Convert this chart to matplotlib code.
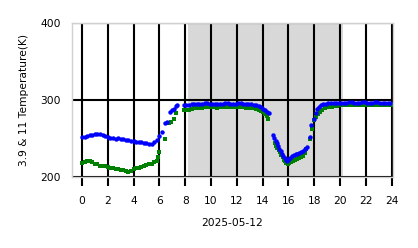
import matplotlib
matplotlib.use("Agg")
import matplotlib.pyplot as plt

# 3.9 K stage (blue) and 11 K stage (green), hours of 2025-05-12
blue_hours = [0.0, 0.2, 0.4, 0.6, 0.8, 1.0, 1.2, 1.4, 1.6, 1.8, 2.0, 2.2, 2.4, 2.6, 2.8, 3.0,
              3.2, 3.4, 3.6, 3.8, 4.0, 4.2, 4.4, 4.6, 4.8, 5.0, 5.2, 5.4, 5.6, 5.8, 6.0, 6.2,
              6.45, 6.6, 6.85, 6.95, 7.1, 7.25, 7.4,
              7.9, 8.1, 8.3, 8.5, 8.7, 8.9, 9.1, 9.3, 9.5, 9.7, 9.9, 10.1, 10.3, 10.5, 10.7,
              10.9, 11.1, 11.3, 11.5, 11.7, 11.9, 12.1, 12.3, 12.5, 12.7, 12.9, 13.1, 13.3,
              13.5, 13.7, 13.9, 14.05, 14.2, 14.35, 14.5,
              14.8, 14.9, 15.0, 15.1, 15.2, 15.3, 15.4, 15.5, 15.6, 15.7, 15.8, 15.9, 16.0,
              16.1, 16.25, 16.4, 16.55, 16.7, 16.85, 17.0, 17.15, 17.3, 17.45,
              17.65, 17.78, 17.95, 18.1, 18.25, 18.4, 18.55, 18.7, 18.9, 19.1, 19.3, 19.5,
              19.7, 19.9, 20.1, 20.3, 20.5, 20.7, 20.9, 21.1, 21.3, 21.5, 21.7, 21.9, 22.1,
              22.3, 22.5, 22.7, 22.9, 23.1, 23.3, 23.5, 23.7, 23.9]
blue_temp = [252, 252.5, 253, 254, 254.5, 255.5, 256, 255.5, 255, 253.5, 252, 251, 250.5, 249.5,
             250.5, 249.5, 249, 248.5, 247.5, 247, 246.5, 246, 245.5, 245, 244.5, 244, 243,
             243.5, 245.5, 248, 253, 258,
             270, 272, 285, 287, 289, 292, 293,
             293.5, 293.5, 294, 294.5, 295.5, 295.5, 295, 295.5, 296, 296, 295.5, 295.5, 295,
             295, 295, 295.5, 296, 296, 295.5, 295, 295.5, 296, 296, 295.5, 295, 294.5, 294.5,
             294, 293.5, 292.5, 290.5, 289, 287, 285, 283,
             254, 250.5, 247, 244, 240.5, 237, 234, 230, 227, 224.5, 222.5, 221.5, 222.5,
             224.5, 227, 228.5, 229.5, 230.5, 231.5, 233, 234.5, 236.5, 239,
             252, 267, 276, 283, 288, 291, 293, 294.5, 295.5, 296, 296.5, 296.5,
             296.5, 296.5, 296.5, 296.5, 296.5, 297, 297, 296.5, 296.5, 296.5, 297, 297, 296.5,
             296.5, 296.5, 297, 297, 296.5, 296.5, 296.5, 296.5, 296.5]

green_hours = [0.0, 0.2, 0.4, 0.6, 0.8, 1.0, 1.2, 1.4, 1.6, 1.8, 2.0, 2.2, 2.4, 2.6, 2.8, 3.0,
               3.2, 3.4, 3.6, 3.8, 4.0, 4.2, 4.4, 4.6, 4.8, 5.0, 5.2, 5.4, 5.6, 5.8, 5.9, 6.0,
               6.45, 6.75, 6.9, 7.15, 7.25,
               7.9, 8.1, 8.3, 8.5, 8.7, 8.9, 9.1, 9.3, 9.5, 9.7, 9.9, 10.1, 10.3, 10.5, 10.7,
               10.9, 11.1, 11.3, 11.5, 11.7, 11.9, 12.1, 12.3, 12.5, 12.7, 12.9, 13.1, 13.3,
               13.5, 13.7, 13.9, 14.05, 14.2, 14.35, 14.45,
               14.95, 15.05, 15.15, 15.25, 15.35, 15.45, 15.55, 15.65, 15.75, 15.85, 15.95,
               16.05, 16.2, 16.35, 16.5, 16.65, 16.8, 16.95, 17.1, 17.25, 17.4,
               17.65, 17.8, 18.0, 18.15, 18.3, 18.45, 18.6, 18.8, 19.0, 19.2, 19.4, 19.6, 19.8,
               20.0, 20.2, 20.4, 20.6, 20.8, 21.0, 21.2, 21.4, 21.6, 21.8, 22.0, 22.2, 22.4,
               22.6, 22.8, 23.0, 23.2, 23.4, 23.6, 23.8, 24.0]
green_temp = [218, 219.5, 221, 221, 219, 217, 216.5, 215, 214.5, 214, 213, 212, 212, 211, 210.5,
              209.5, 209, 207.5, 207, 208.5, 210.5, 211.5, 212, 213.5, 214.5, 215.5, 216.5,
              217.5, 219, 221.5, 226, 233,
              249, 270, 272, 276, 283,
              287, 287.5, 287, 288.5, 289.5, 290, 289.5, 290, 290.5, 291, 291, 290.5, 290.5,
              290, 290.5, 291, 291, 291, 290.5, 290.5, 291, 291, 291, 290.5, 290, 290, 289.5,
              289.5, 288.5, 287.5, 286, 284, 281.5, 279, 276,
              244, 241, 238, 235, 232, 228.5, 225.5, 222.5, 220.5, 218.5, 217.5,
              218, 219.5, 221, 222, 223.5, 224.5, 226, 228, 231.5, 236,
              250, 263, 273.5, 278, 282, 285, 287.5, 289.5, 290.5, 291, 291.5, 292, 292.5,
              293, 293.5, 293.5, 293.5, 293.5, 293.5, 293.5, 293.5, 293.5, 293.5, 293.5, 293.5,
              293.5, 293.5, 293.5, 293.5, 293.5, 293.5, 293.5, 293.5, 293.5]

day_start = 8.2
day_end = 20.2
x_ticks = list(range(0, 25, 2))
y_ticks = [200, 300, 400]

fig = plt.figure(figsize=(4.18, 2.48), dpi=100)
ax = fig.add_axes([0.172, 0.286, 0.768, 0.621])

ax.axvspan(day_start, day_end, color="grey", alpha=0.3, lw=0)
ax.plot(green_hours, green_temp, "s", color="g", ms=2.4, mew=0)
ax.plot(blue_hours, blue_temp, "o", color="b", ms=3.2, mew=0)

ax.set_xlim(-0.78, 24.1)
ax.set_ylim(200, 400)
ax.set_xticks(x_ticks)
ax.set_yticks(y_ticks)
ax.grid(True, color="black", linewidth=1.5)
ax.tick_params(axis="x", length=6.5, width=1.5, color="black", labelsize=7.7, pad=7)
ax.tick_params(axis="y", length=0, labelsize=7.7, pad=8)
for s in ax.spines.values():
    s.set_color("#d0d0d0")
    s.set_linewidth(1)

ax.set_xlabel("2025-05-12", fontsize=7.7, labelpad=9)
ax.set_ylabel("3.9 & 11 Temperature(K)", fontsize=7.7, labelpad=8)

fig.savefig("out.png", dpi=100)
